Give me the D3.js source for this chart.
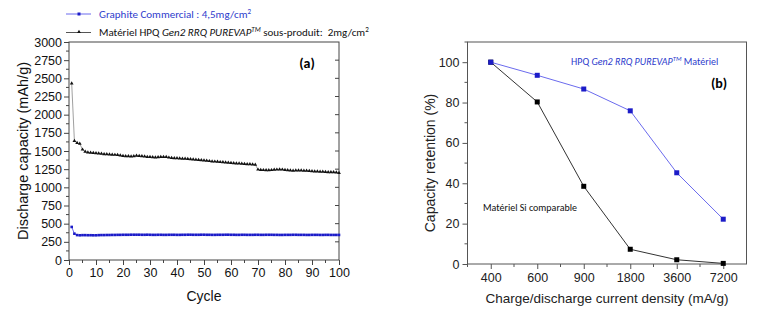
<!DOCTYPE html>
<html>
<head>
<meta charset="utf-8">
<script src="https://cdn.jsdelivr.net/npm/d3@7"></script>
<style>
  body { margin: 0; background: #fff; }
</style>
</head>
<body>
<div id="chart"></div>
<script>
// ---- data (a) : discharge capacity per cycle, cycles 1..100
var hpqCapacity = [
  2430, 1640, 1610, 1600, 1520, 1490, 1480, 1478, 1475, 1470,
  1468, 1462, 1458, 1455, 1452, 1450, 1448, 1446, 1440, 1432,
  1430, 1428, 1425, 1430, 1435, 1432, 1428, 1425, 1420, 1418,
  1415, 1412, 1415, 1418, 1420, 1418, 1410, 1405, 1402, 1400,
  1398, 1396, 1394, 1392, 1388, 1385, 1382, 1378, 1375, 1372,
  1368, 1362, 1358, 1355, 1352, 1348, 1345, 1342, 1340, 1335,
  1332, 1330, 1328, 1325, 1322, 1320, 1318, 1316, 1312, 1245,
  1240, 1238, 1236, 1235, 1238, 1242, 1245, 1248, 1245, 1240,
  1236, 1232, 1230, 1232, 1234, 1232, 1230, 1228, 1225, 1222,
  1220, 1218, 1216, 1215, 1212, 1210, 1210, 1208, 1205, 1200
];
var graphiteCapacity = [
  455, 362, 343, 340, 342, 342, 341, 341, 340, 340,
  342, 343, 343, 344, 344, 345, 345, 346, 346, 347,
  347, 347, 348, 348, 348, 348, 347, 347, 348, 347,
  346, 346, 347, 347, 346, 346, 347, 347, 347, 346,
  346, 347, 347, 348, 348, 347, 347, 347, 348, 348,
  347, 347, 346, 346, 347, 347, 347, 348, 348, 347,
  347, 346, 346, 347, 347, 346, 346, 346, 347, 347,
  346, 346, 347, 347, 347, 346, 346, 345, 345, 346,
  346, 346, 347, 347, 346, 346, 346, 345, 345, 346,
  346, 346, 345, 345, 346, 346, 345, 345, 345, 345
];

// ---- data (b) : capacity retention vs current density
var currentDensity = ["400", "600", "900", "1800", "3600", "7200"];
var hpqRetention = [100, 93.5, 86.7, 75.9, 45.2, 22.2];
var siRetention = [100, 80.3, 38.5, 7.3, 2.1, 0.3];

var capTicks = [0, 250, 500, 750, 1000, 1250, 1500, 1750, 2000, 2250, 2500, 2750, 3000];
var cycleTicks = [0, 10, 20, 30, 40, 50, 60, 70, 80, 90, 100];
var retTicks = [0, 20, 40, 60, 80, 100];

var SANS = "Arial, 'Liberation Sans', Helvetica, sans-serif";
var NOTE = "Carlito, Lato, 'Open Sans', sans-serif";
var blueMark = "#1c1cc8", blueLine = "#6b6bee", blueText = "#2d3ccc";
var frameCol = "#444";

var svg = d3.select("#chart").append("svg")
  .attr("width", 766).attr("height", 314)
  .attr("font-family", SANS);

// =============== panel (a) ===============
var xA = d3.scaleLinear().domain([0, 100]).range([69, 339]);
var yA = d3.scaleLinear().domain([0, 3000]).range([260, 42]);

var gA = svg.append("g");

gA.append("rect")
  .attr("x", xA(0)).attr("y", yA(3000))
  .attr("width", xA(100) - xA(0)).attr("height", yA(0) - yA(3000))
  .attr("fill", "none").attr("stroke", frameCol).attr("stroke-width", 1);

var axA_y = gA.append("g").attr("transform", "translate(" + xA(0) + ",0)")
  .call(d3.axisLeft(yA).tickValues(capTicks).tickFormat(d3.format("d")).tickSize(5).tickPadding(2));
var axA_x = gA.append("g").attr("transform", "translate(0," + yA(0) + ")")
  .call(d3.axisBottom(xA).tickValues(cycleTicks).tickFormat(d3.format("d")).tickSize(5).tickPadding(3));
[axA_y, axA_x].forEach(function(ax){
  ax.attr("font-family", SANS);
  ax.select(".domain").remove();
  ax.selectAll("line").attr("stroke", frameCol);
  ax.selectAll("text").attr("font-size", 12.5).attr("fill", "#111");
});

// minor ticks
gA.selectAll(".minY").data(capTicks.slice(0, -1)).enter().append("line")
  .attr("x1", xA(0)).attr("x2", xA(0) - 3)
  .attr("y1", function(d){ return yA(d + 125); }).attr("y2", function(d){ return yA(d + 125); })
  .attr("stroke", frameCol);
gA.selectAll(".minX").data(cycleTicks.slice(0, -1)).enter().append("line")
  .attr("y1", yA(0)).attr("y2", yA(0) + 3)
  .attr("x1", function(d){ return xA(d + 5); }).attr("x2", function(d){ return xA(d + 5); })
  .attr("stroke", frameCol);
// right border inward ticks
gA.selectAll(".rTick").data(capTicks.slice(1, -1)).enter().append("line")
  .attr("x1", xA(100)).attr("x2", xA(100) - 4)
  .attr("y1", function(d){ return yA(d); }).attr("y2", function(d){ return yA(d); })
  .attr("stroke", frameCol);

var lineA = d3.line()
  .x(function(d, i){ return xA(i + 1); })
  .y(function(d){ return yA(d); });

gA.append("path").datum(graphiteCapacity)
  .attr("d", lineA).attr("fill", "none").attr("stroke", blueLine).attr("stroke-width", 1);
gA.append("path").datum(hpqCapacity)
  .attr("d", lineA).attr("fill", "none").attr("stroke", "#888").attr("stroke-width", 0.8);

gA.selectAll(".gMark").data(graphiteCapacity).enter().append("rect")
  .attr("x", function(d, i){ return xA(i + 1) - 1.3; })
  .attr("y", function(d){ return yA(d) - 1.3; })
  .attr("width", 2.6).attr("height", 2.6).attr("fill", blueMark);

var tri = d3.symbol().type(d3.symbolTriangle).size(6);
gA.selectAll(".hMark").data(hpqCapacity).enter().append("path")
  .attr("d", tri)
  .attr("transform", function(d, i){ return "translate(" + xA(i + 1) + "," + yA(d) + ")"; })
  .attr("fill", "#111");

gA.append("text").attr("x", 307).attr("y", 68).attr("text-anchor", "middle")
  .attr("font-family", NOTE).attr("font-size", 14).attr("font-weight", "bold").text("(a)");

gA.append("text")
  .attr("transform", "translate(28," + ((yA(0) + yA(3000)) / 2) + ") rotate(-90)")
  .attr("text-anchor", "middle").attr("font-size", 14.5).attr("fill", "#111")
  .text("Discharge capacity (mAh/g)");
gA.append("text").attr("x", (xA(0) + xA(100)) / 2).attr("y", 301)
  .attr("text-anchor", "middle").attr("font-size", 14).attr("fill", "#111").text("Cycle");

// legend
var leg = svg.append("g").attr("font-family", NOTE);
leg.append("line").attr("x1", 66).attr("x2", 91).attr("y1", 14).attr("y2", 14)
  .attr("stroke", blueLine);
leg.append("rect").attr("x", 77.5).attr("y", 12.5).attr("width", 3).attr("height", 3).attr("fill", blueMark);
leg.append("line").attr("x1", 66).attr("x2", 91).attr("y1", 32.5).attr("y2", 32.5)
  .attr("stroke", "#555");
leg.append("path").attr("d", tri).attr("transform", "translate(79,32)").attr("fill", "#111");

var t1 = leg.append("text").attr("x", 99).attr("y", 18)
  .attr("font-size", 11).attr("fill", blueText);
t1.append("tspan").text("Graphite Commercial : 4,5mg/cm");
t1.append("tspan").attr("font-size", 7).attr("dy", -4).text("2");

var t2 = leg.append("text").attr("x", 99).attr("y", 36)
  .attr("font-size", 11).attr("fill", "#111");
t2.append("tspan").text("Matériel HPQ ");
t2.append("tspan").attr("font-style", "italic").text("Gen2 RRQ PUREVAP");
t2.append("tspan").attr("font-style", "italic").attr("font-size", 7).attr("dy", -4).text("TM");
t2.append("tspan").attr("dy", 4).text(" sous-produit:\u00a0 2mg/cm");
t2.append("tspan").attr("font-size", 7).attr("dy", -4).text("2");

// =============== panel (b) ===============
var xB = d3.scalePoint().domain(currentDensity).range([467.5, 746.5]).padding(0.5);
var yB = d3.scaleLinear().domain([0, 110]).range([264, 42]);

var gB = svg.append("g");
gB.append("rect")
  .attr("x", 467.5).attr("y", yB(110))
  .attr("width", 746.5 - 467.5).attr("height", yB(0) - yB(110))
  .attr("fill", "none").attr("stroke", "#555").attr("stroke-width", 1);

var axB_y = gB.append("g").attr("transform", "translate(467.5,0)")
  .call(d3.axisLeft(yB).tickValues(retTicks).tickSize(5).tickPadding(3));
var axB_x = gB.append("g").attr("transform", "translate(0," + yB(0) + ")")
  .call(d3.axisBottom(xB).tickSize(5).tickPadding(4));
[axB_y, axB_x].forEach(function(ax){
  ax.attr("font-family", SANS);
  ax.select(".domain").remove();
  ax.selectAll("line").attr("stroke", "#555");
  ax.selectAll("text").attr("font-size", 12.5).attr("fill", "#222");
});
gB.selectAll(".minYB").data(retTicks).enter().append("line")
  .attr("x1", 467.5).attr("x2", 464.5)
  .attr("y1", function(d){ return yB(d + 10); }).attr("y2", function(d){ return yB(d + 10); })
  .attr("stroke", "#555");
var step = xB.step();
gB.selectAll(".minXB").data(currentDensity).enter().append("line")
  .attr("y1", yB(0)).attr("y2", yB(0) + 3)
  .attr("x1", function(d){ return xB(d) - step / 2; }).attr("x2", function(d){ return xB(d) - step / 2; })
  .attr("stroke", "#555");

var hpqPts = currentDensity.map(function(c, i){ return [c, hpqRetention[i]]; });
var siPts = currentDensity.map(function(c, i){ return [c, siRetention[i]]; });

var lineB = d3.line().x(function(d){ return xB(d[0]); }).y(function(d){ return yB(d[1]); });
gB.append("path").datum(siPts)
  .attr("d", lineB)
  .attr("fill", "none").attr("stroke", "#333").attr("stroke-width", 1);
gB.append("path").datum(hpqPts)
  .attr("d", lineB)
  .attr("fill", "none").attr("stroke", blueLine).attr("stroke-width", 1);

gB.selectAll(".siM").data(siPts).enter().append("rect")
  .attr("x", function(d){ return xB(d[0]) - 2.5; }).attr("y", function(d){ return yB(d[1]) - 2.5; })
  .attr("width", 5).attr("height", 5).attr("fill", "#000");
gB.selectAll(".hpM").data(hpqPts).enter().append("rect")
  .attr("x", function(d){ return xB(d[0]) - 2.5; }).attr("y", function(d){ return yB(d[1]) - 2.5; })
  .attr("width", 5).attr("height", 5).attr("fill", blueMark);

var t3 = gB.append("text").attr("font-family", NOTE).attr("x", 571).attr("y", 65)
  .attr("font-size", 10).attr("fill", blueText);
t3.append("tspan").text("HPQ ");
t3.append("tspan").attr("font-style", "italic").text("Gen2 RRQ PUREVAP");
t3.append("tspan").attr("font-style", "italic").attr("font-size", 6.5).attr("dy", -4).text("TM");
t3.append("tspan").attr("dy", 4).text(" Matériel");

gB.append("text").attr("font-family", NOTE).attr("x", 483).attr("y", 211)
  .attr("font-size", 10).attr("fill", "#111").text("Matériel Si comparable");

gB.append("text").attr("x", 719).attr("y", 88).attr("text-anchor", "middle")
  .attr("font-family", NOTE).attr("font-size", 14).attr("font-weight", "bold").text("(b)");

gB.append("text")
  .attr("transform", "translate(435," + ((yB(0) + yB(110)) / 2 + 10) + ") rotate(-90)")
  .attr("text-anchor", "middle").attr("font-size", 14).attr("fill", "#222")
  .text("Capacity retention (%)");
gB.append("text").attr("x", 607).attr("y", 303).attr("text-anchor", "middle")
  .attr("font-size", 13.5).attr("fill", "#222")
  .text("Charge/discharge current density (mA/g)");
</script>
</body>
</html>
